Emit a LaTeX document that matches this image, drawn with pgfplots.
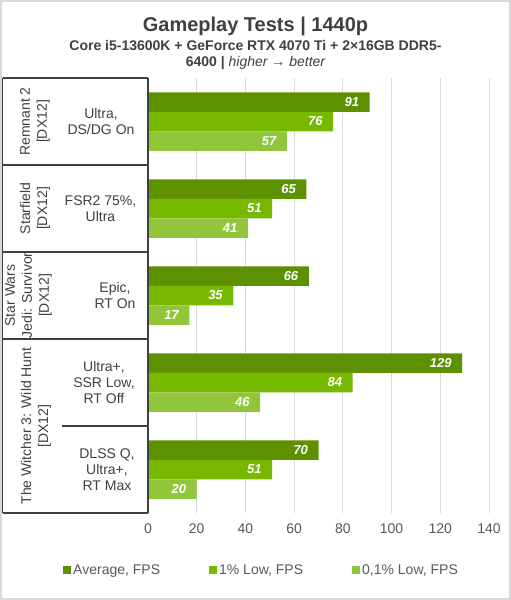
\documentclass[border=0pt]{standalone}
\usepackage{pgfplots}
\pgfplotsset{compat=1.18}
\usepackage{fontspec}
\setmainfont{Liberation Sans}
\definecolor{cavg}{RGB}{94,145,0}
\definecolor{clow}{RGB}{118,185,0}
\definecolor{cvlow}{RGB}{146,198,58}
\definecolor{txt}{RGB}{64,64,64}
\definecolor{tickc}{RGB}{89,89,89}
\definecolor{gridc}{RGB}{217,217,217}
\begin{document}
\begin{tikzpicture}
\begin{scope}[x=1pt,y=1pt]
\fill[white] (0,0) rectangle (511,-600);
\draw[gray!30, line width=2pt] (1,-1) rectangle (510,-599);
\node[font=\fontsize{20}{24}\selectfont\bfseries, text=txt] at (255.5,-26) {Gameplay Tests | 1440p};
\node[font=\fontsize{14}{17}\selectfont\bfseries, text=txt] at (255.5,-46) {Core i5-13600K + GeForce RTX 4070 Ti + 2×16GB DDR5-};
\node[font=\fontsize{14}{17}\selectfont\bfseries, text=txt] at (255.5,-63) {6400 | {\mdseries\itshape higher → better}};
\end{scope}
\begin{axis}[
  at={(148pt,-513pt)}, anchor=south west,
  scale only axis, width=341pt, height=435pt,
  xbar, bar width=19.5pt,
  xmin=0, xmax=140, ymin=-0.5, ymax=4.5,
  xtick={0,20,...,140}, ytick=\empty,
  xmajorgrids, grid style={gridc, line width=1pt},
  axis line style={draw=none}, tick style={draw=none},
  /pgf/number format/assume math mode=true,
  xticklabel style={font=\fontsize{14}{17}\selectfont, text=tickc, yshift=-7pt},
  nodes near coords,
  every node near coord/.append style={anchor=east, xshift=-7pt, text=white, font=\fontsize{13}{15}\selectfont\bfseries\itshape},
  legend columns=3,
  legend style={at={(0.333,-0.131)}, anchor=center, draw=none, fill=none,
    font=\fontsize{14}{17}\selectfont, text=tickc,
    /tikz/every even column/.append style={column sep=47pt}},
  legend image code/.code={\fill[#1] (0pt,-4pt) rectangle (8pt,4pt);},
]
\addplot[fill=cavg, draw=none, bar shift=19.5pt] coordinates {(91,4) (65,3) (66,2) (129,1) (70,0)};
\addplot[fill=clow, draw=none, bar shift=0pt] coordinates {(76,4) (51,3) (35,2) (84,1) (51,0)};
\addplot[fill=cvlow, draw=none, bar shift=-19.5pt] coordinates {(57,4) (41,3) (17,2) (46,1) (20,0)};
\legend{{Average, FPS},{1\% Low, FPS},{0,1\% Low, FPS}}
\end{axis}
\begin{scope}[x=1pt,y=1pt]
\begin{scope}[txt, line width=1.5pt]
\draw (2.5,-78) -- (148,-78);
\draw (2.5,-78) -- (2.5,-513);
\draw (148,-78) -- (148,-513);
\draw (2.5,-513) -- (148,-513);
\draw (2.5,-165) -- (148,-165);
\draw (2.5,-252) -- (148,-252);
\draw (2.5,-339) -- (148,-339);
\draw (62,-426) -- (148,-426);
\end{scope}
\begin{scope}[every node/.style={text=txt, align=center, font=\fontsize{14}{17}\selectfont}]
\node[rotate=90] at (35,-121.5) {Remnant 2\\{[DX12]}};
\node[rotate=90] at (35,-208.5) {Starfield\\{[DX12]}};
\node[rotate=90] at (28.5,-295.5) {Star Wars\\Jedi: Survivor\\{[DX12]}};
\node[rotate=90] at (36,-426) {The Witcher 3: Wild Hunt\\{[DX12]}};
\end{scope}
\begin{scope}[every node/.style={text=txt, align=center, font=\fontsize{14}{16}\selectfont}]
\node at (101,-121) {Ultra,\\DS/DG On};
\node at (100.5,-208.5) {FSR2 75\%,\\Ultra};
\node at (115,-295.5) {Epic,\\RT On};
\node at (104,-382.5) {Ultra+,\\SSR Low,\\RT Off};
\node at (107,-469.5) {DLSS Q,\\Ultra+,\\RT Max};
\end{scope}
\end{scope}
\end{tikzpicture}
\end{document}
